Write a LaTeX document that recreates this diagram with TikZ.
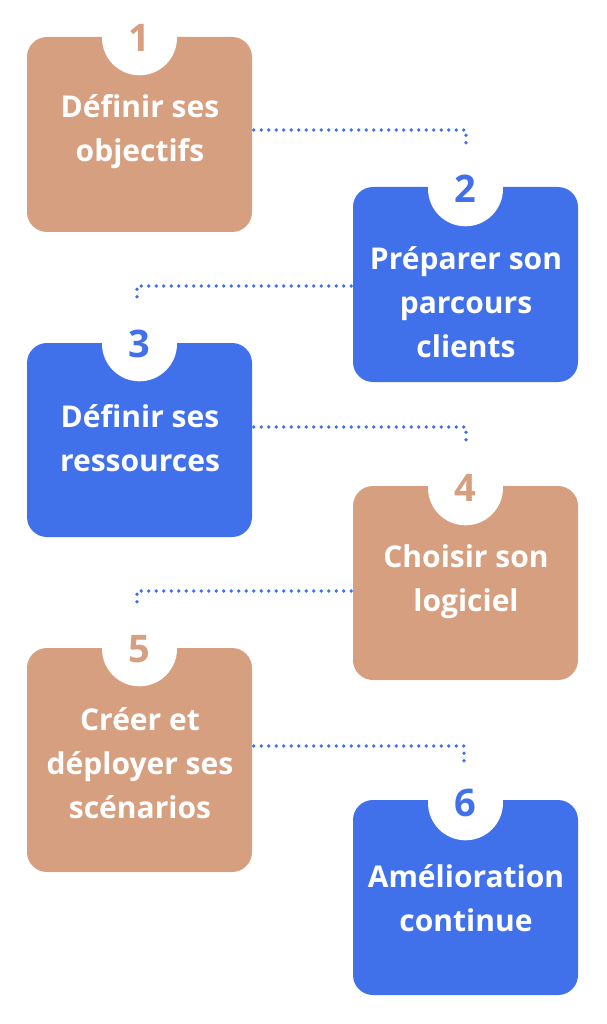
\documentclass[tikz,border=0pt]{standalone}
\usepackage{fontspec}
\setmainfont{Open Sans}
\definecolor{steptan}{HTML}{D6A080}
\definecolor{stepblue}{HTML}{4170EB}
\newcommand{\ls}{\vrule width 0pt height 30pt depth 14pt}
\begin{document}
\begin{tikzpicture}[x=1pt,y=-1pt,
  box/.style={rectangle, rounded corners=20pt, minimum width=225pt, minimum height=195pt, inner sep=0pt},
  numc/.style={circle, fill=white, minimum size=75pt, inner sep=0pt, font=\fontsize{38}{38}\selectfont\bfseries},
  steptext/.style={text=white, align=center, font=\fontsize{30}{44}\selectfont\bfseries, inner sep=0pt},
  conn/.style={draw=stepblue, line width=3.8pt, line cap=round, dash pattern=on 0pt off 7.5pt}]
\useasboundingbox (0,0) rectangle (606,1024);

% boxes
\node[box, fill=steptan] (b1) at (139.5,134.5) {};
\node[box, fill=stepblue] (b2) at (465.5,284.5) {};
\node[box, fill=stepblue, minimum height=194pt] (b3) at (139.5,440) {};
\node[box, fill=steptan, minimum height=194pt] (b4) at (465.5,583) {};
\node[box, fill=steptan, minimum height=224pt] (b5) at (139.5,760) {};
\node[box, fill=stepblue] (b6) at (465.5,897.5) {};

% number notches
\node[numc, text=steptan] (n1) at ([yshift=-1pt]b1.north) {1};
\node[numc, text=stepblue] (n2) at ([yshift=-2pt]b2.north) {2};
\node[numc, text=stepblue] (n3) at ([yshift=-1pt]b3.north) {3};
\node[numc, text=steptan] (n4) at ([yshift=-2pt]b4.north) {4};
\node[numc, text=steptan] (n5) at ([yshift=-1pt]b5.north) {5};
\node[numc, text=stepblue] (n6) at ([yshift=-3pt]b6.north) {6};

% texts
\node[steptext] (t1) at (140,132) {\ls Définir ses\\\ls objectifs};
\node[steptext] (t2) at (466,305) {\ls Préparer son\\\ls parcours\\\ls clients};
\node[steptext] (t3) at (140,441) {\ls Définir ses\\\ls ressources};
\node[steptext] (t4) at (466,581) {\ls Choisir son\\\ls logiciel};
\node[steptext] (t5) at (140,766) {\ls Créer et\\\ls déployer ses\\\ls scénarios};
\node[steptext] (t6) at (466,901) {\ls Amélioration\\\ls continue};

% connectors
\coordinate (e1) at (466,147);
\coordinate (e2) at (137,302);
\coordinate (e3) at (466,443);
\coordinate (e4) at (137,606);
\coordinate (e5) at (464,763);
\draw[conn] ([xshift=1.5pt,yshift=4.5pt]b1.east) -| (e1);
\draw[conn] ([xshift=-1.5pt,yshift=-1.5pt]b2.west) -| (e2);
\draw[conn] ([xshift=1.5pt,yshift=13pt]b3.east) -| (e3);
\draw[conn] ([xshift=-1.5pt,yshift=-8pt]b4.west) -| (e4);
\draw[conn] ([xshift=1.5pt,yshift=14pt]b5.east) -| (e5);
\end{tikzpicture}
\end{document}
